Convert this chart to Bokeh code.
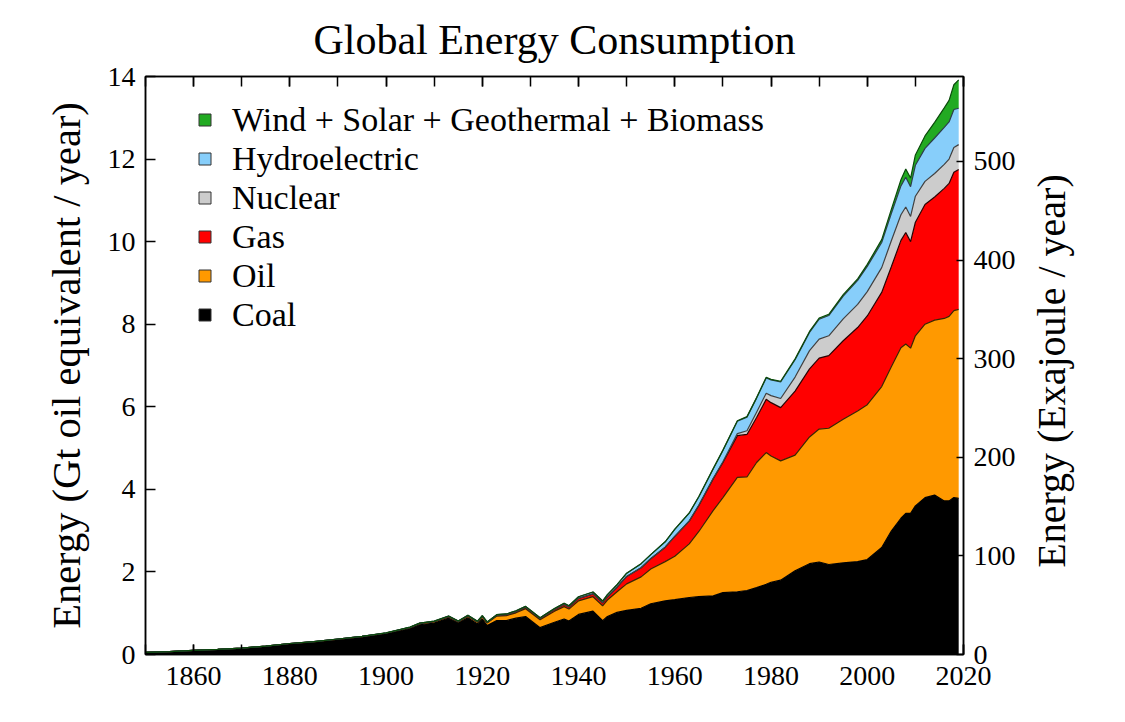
import math
import numpy as np
from bokeh.plotting import figure
from bokeh.models import (Range1d, LinearAxis, Legend, LegendItem, FixedTicker,
                          ColumnDataSource)
from bokeh.embed import file_html
from bokeh.resources import INLINE

# ---------------- data (Gt oil equivalent / year) ----------------
years = [1850, 1855, 1860, 1865, 1870, 1875, 1880, 1885, 1890, 1895, 1900, 1905, 1907,
         1910, 1913, 1915, 1917, 1919, 1920, 1921, 1923, 1925, 1927, 1929, 1932, 1935,
         1937, 1938, 1940, 1943, 1945, 1946, 1948, 1950, 1953, 1955, 1958, 1960, 1963,
         1965, 1968, 1970, 1973, 1975, 1977, 1979, 1980, 1982, 1985, 1988, 1990, 1992,
         1995, 1998, 2000, 2003, 2005, 2007, 2008, 2009, 2010, 2012, 2014, 2016, 2017,
         2018, 2019]

coal = [0.05, 0.07, 0.10, 0.12, 0.15, 0.20, 0.26, 0.30, 0.36, 0.42, 0.50, 0.63, 0.72,
        0.76, 0.88, 0.76, 0.89, 0.74, 0.86, 0.70, 0.82, 0.82, 0.88, 0.92, 0.65, 0.78,
        0.86, 0.81, 0.97, 1.05, 0.82, 0.92, 1.02, 1.07, 1.12, 1.23, 1.30, 1.33, 1.38,
        1.40, 1.42, 1.50, 1.52, 1.55, 1.62, 1.70, 1.75, 1.80, 2.03, 2.20, 2.24, 2.18,
        2.22, 2.25, 2.30, 2.59, 2.99, 3.30, 3.42, 3.42, 3.60, 3.80, 3.86, 3.72, 3.72,
        3.80, 3.78]

oil = [0.0, 0.0, 0.0, 0.002, 0.003, 0.005, 0.005, 0.008, 0.01, 0.012, 0.015, 0.02, 0.025,
       0.03, 0.03, 0.03, 0.035, 0.04, 0.05, 0.06, 0.11, 0.12, 0.13, 0.19, 0.19, 0.27,
       0.30, 0.29, 0.33, 0.35, 0.36, 0.40, 0.50, 0.64, 0.76, 0.84, 0.95, 1.05, 1.30,
       1.58, 2.07, 2.30, 2.77, 2.75, 3.03, 3.19, 3.06, 2.89, 2.80, 3.07, 3.22, 3.30,
       3.48, 3.65, 3.75, 3.90, 3.98, 4.13, 4.10, 4.00, 4.12, 4.20, 4.24, 4.42, 4.47,
       4.53, 4.58]

gas = [0.0, 0.0, 0.0, 0.0, 0.0, 0.0, 0.002, 0.003, 0.005, 0.005, 0.006, 0.008, 0.01,
       0.01, 0.012, 0.012, 0.015, 0.015, 0.016, 0.016, 0.02, 0.025, 0.03, 0.035, 0.03, 0.04,
       0.05, 0.05, 0.06, 0.07, 0.07, 0.08, 0.11, 0.18, 0.22, 0.25, 0.35, 0.48, 0.55,
       0.63, 0.77, 0.85, 1.01, 1.03, 1.09, 1.29, 1.29, 1.29, 1.55, 1.65, 1.72, 1.76,
       1.90, 2.02, 2.15, 2.28, 2.42, 2.60, 2.70, 2.58, 2.75, 2.90, 2.98, 3.15, 3.22,
       3.35, 3.39]

nuclear = [0.0] * 37 + [0.0, 0.003,
           0.01, 0.01, 0.02, 0.05, 0.09, 0.13, 0.15, 0.17, 0.22, 0.34, 0.44, 0.46, 0.48,
           0.53, 0.56, 0.59, 0.60, 0.63, 0.62, 0.62, 0.61, 0.63, 0.56, 0.57, 0.58, 0.59,
           0.60, 0.60]

hydro = [0.0] * 10 + [0.003, 0.005, 0.006,
         0.008, 0.01, 0.01, 0.012, 0.012, 0.013, 0.013, 0.015, 0.017, 0.019, 0.02, 0.02, 0.025,
         0.03, 0.03, 0.04, 0.045, 0.045, 0.05, 0.06, 0.08, 0.10, 0.10, 0.13, 0.17, 0.19,
         0.20, 0.23, 0.27, 0.30, 0.33, 0.34, 0.37, 0.38, 0.40, 0.42, 0.44, 0.48, 0.49,
         0.55, 0.58, 0.61, 0.61, 0.66, 0.70, 0.72, 0.72, 0.75, 0.80, 0.86, 0.90, 0.90,
         0.92, 0.88]

renewables = [0.0] * 37 + [0.005, 0.005,
              0.008, 0.008, 0.01, 0.01, 0.012, 0.012, 0.015, 0.015, 0.018, 0.02, 0.025, 0.03, 0.03,
              0.035, 0.04, 0.05, 0.07, 0.10, 0.15, 0.20, 0.21, 0.25, 0.30, 0.38, 0.47, 0.52,
              0.60, 0.69]

series_names = ["Coal", "Oil", "Gas", "Nuclear", "Hydroelectric",
                "Wind + Solar + Geothermal + Biomass"]
fill_colors = ["#000000", "#FF9900", "#FF0000", "#CCCCCC", "#87CEFA", "#22AA22"]
edge_colors = ["#000000", "#3a2600", "#2a0000", "#404040", "#2c3e4a", "#0a4a0a"]

x_major = list(range(1860, 2021, 20))
x_minor = list(range(1850, 2021, 10))
y_left_ticks = list(range(0, 15, 2))
y_right_ticks = list(range(0, 501, 100))
right_title = "Energy (Exajoule / year)"
right_title_pos = 2.1   # anchor of the right-hand axis title (Gt oil eq. scale)

GTOE_TO_EJ = 41.868
FONT = "Liberation Serif"

# ---------------- stacking ----------------
stack = np.cumsum(np.array([coal, oil, gas, nuclear, hydro, renewables], dtype=float), axis=0)
data = {"year": years, "zero": [0.0] * len(years)}
for i in range(6):
    data[f"top{i}"] = stack[i]
src = ColumnDataSource(data)

p = figure(width=1125, height=722, output_backend="svg", toolbar_location=None,
           x_range=Range1d(1850, 2020), y_range=Range1d(0, 14),
           min_border_left=145, min_border_right=162, min_border_top=75,
           min_border_bottom=68, background_fill_color="white",
           border_fill_color="white", x_axis_type=None, y_axis_type=None)
p.extra_y_ranges = {"ej": Range1d(0, 14 * GTOE_TO_EJ)}

p.xgrid.visible = False
p.ygrid.visible = False
p.outline_line_color = "black"
p.outline_line_width = 1.5
p.outline_line_alpha = 1.0

for i in range(6):
    bottom = "zero" if i == 0 else f"top{i-1}"
    p.varea(x="year", y1=bottom, y2=f"top{i}", source=src, fill_color=fill_colors[i])
for i in range(6):
    p.line(x="year", y=f"top{i}", source=src, line_color=edge_colors[i], line_width=1.2)

# ---------------- axes ----------------
def style_axis(ax, tick_len=10, minor=False):
    ax.major_tick_in = tick_len
    ax.major_tick_out = 0
    ax.minor_tick_in = tick_len if minor else 0
    ax.minor_tick_out = 0
    ax.axis_line_color = "black"
    ax.axis_line_width = 1.5
    ax.major_tick_line_color = "black"
    ax.major_tick_line_width = 1.5
    ax.minor_tick_line_color = "black"
    ax.minor_tick_line_width = 1.5
    ax.major_label_text_font = FONT
    ax.major_label_text_font_size = "28px"
    ax.major_label_text_color = "black"
    ax.axis_label_text_font = FONT
    ax.axis_label_text_font_size = "40.5px"
    ax.axis_label_text_font_style = "normal"
    ax.axis_label_text_color = "black"

xb = LinearAxis(ticker=FixedTicker(ticks=x_major, minor_ticks=x_minor))
style_axis(xb, minor=True)
xb.major_label_standoff = 12
p.add_layout(xb, "below")

xt = LinearAxis(ticker=FixedTicker(ticks=x_major, minor_ticks=x_minor),
                major_label_overrides={t: "" for t in x_major})
style_axis(xt, minor=True)
xt.major_label_text_font_size = "1px"
xt.major_label_standoff = 0
p.add_layout(xt, "above")

yl = LinearAxis(ticker=FixedTicker(ticks=y_left_ticks))
style_axis(yl)
yl.axis_label = "Energy (Gt oil equivalent / year)"
yl.major_label_standoff = 10
yl.axis_label_standoff = 16
p.add_layout(yl, "left")

yr = LinearAxis(y_range_name="ej", ticker=FixedTicker(ticks=y_right_ticks))
style_axis(yr, tick_len=7)
yr.major_label_standoff = 10
p.add_layout(yr, "right")

# right-hand axis title, reading bottom-to-top like the left one
yr_title = LinearAxis(ticker=FixedTicker(ticks=[right_title_pos], minor_ticks=[]),
                      major_label_overrides={right_title_pos: right_title})
yr_title.axis_line_color = None
yr_title.major_tick_line_color = None
yr_title.minor_tick_line_color = None
yr_title.major_tick_in = 0
yr_title.major_tick_out = 0
yr_title.minor_tick_in = 0
yr_title.minor_tick_out = 0
yr_title.major_label_orientation = math.pi / 2
yr_title.major_label_standoff = 33
yr_title.major_label_text_font = FONT
yr_title.major_label_text_font_size = "40px"
yr_title.major_label_text_color = "black"
p.add_layout(yr_title, "right")

# ---------------- title ----------------
p.title.text = "Global Energy Consumption"
p.title.align = "center"
p.title.text_font = FONT
p.title.text_font_size = "42px"
p.title.text_font_style = "normal"
p.title.text_color = "black"
p.title.standoff = 28

# ---------------- legend ----------------
nan = float("nan")
proxies = []
for i in range(6):
    q = p.quad(left=[nan], right=[nan], top=[nan], bottom=[nan],
               fill_color=fill_colors[i], line_color="#333333", line_width=1)
    proxies.append(q)

items = [LegendItem(label=series_names[i], renderers=[proxies[i]]) for i in range(5, -1, -1)]
legend = Legend(items=items, location=(52, 320))
legend.border_line_color = None
legend.background_fill_alpha = 0
legend.padding = 0
legend.margin = 0
legend.spacing = 0
legend.glyph_width = 15
legend.glyph_height = 15
legend.label_standoff = 20
legend.label_text_font = FONT
legend.label_text_font_size = "34px"
legend.label_text_color = "black"
legend.label_height = 39
p.add_layout(legend)

open("out.html", "w").write(file_html(p, INLINE))
